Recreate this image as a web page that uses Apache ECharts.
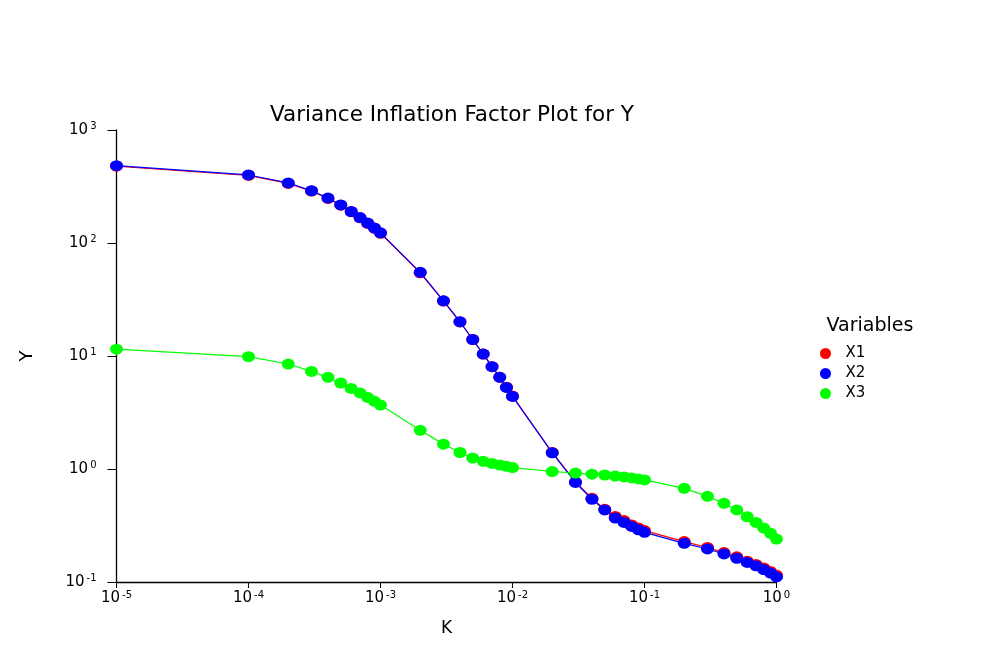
<!DOCTYPE html>
<html>
<head>
<meta charset="utf-8">
<script src="https://cdn.jsdelivr.net/npm/echarts@6/dist/echarts.min.js"></script>
<style>
  html, body { margin: 0; padding: 0; background: #fff; }
  #root { width: 983px; height: 653px; }
</style>
</head>
<body>
<div id="root"></div>
<script>
// ridge parameter K
const kValues = [
  0.00001,
  0.0001, 0.0002, 0.0003, 0.0004, 0.0005, 0.0006, 0.0007, 0.0008, 0.0009, 0.001,
  0.002, 0.003, 0.004, 0.005, 0.006, 0.007, 0.008, 0.009, 0.01,
  0.02, 0.03, 0.04, 0.05, 0.06, 0.07, 0.08, 0.09, 0.1,
  0.2, 0.3, 0.4, 0.5, 0.6, 0.7, 0.8, 0.9, 1.0
]
const x1Values = [
  478,
  396, 337, 288, 248, 216, 189, 167, 149, 135, 122,
  54.5, 30.6, 20.0, 14.0, 10.4, 8.05, 6.5, 5.3, 4.42,
  1.4, 0.77, 0.55, 0.44, 0.38, 0.35, 0.32, 0.30, 0.285,
  0.228, 0.202, 0.182, 0.167, 0.153, 0.143, 0.133, 0.124, 0.115
]
const x2Values = [
  483,
  400, 340, 290, 250, 217, 190, 168, 150, 136, 123,
  55, 30.8, 20.1, 14.0, 10.4, 8.04, 6.47, 5.27, 4.39,
  1.39, 0.76, 0.54, 0.434, 0.368, 0.337, 0.31, 0.29, 0.275,
  0.22, 0.196, 0.177, 0.162, 0.149, 0.139, 0.129, 0.12, 0.111
]
const x3Values = [
  11.5,
  9.86, 8.49, 7.31, 6.47, 5.77, 5.17, 4.71, 4.30, 3.97, 3.68,
  2.2, 1.66, 1.40, 1.25, 1.17, 1.12, 1.085, 1.055, 1.03,
  0.95, 0.92, 0.90, 0.885, 0.867, 0.85, 0.833, 0.816, 0.80,
  0.674, 0.573, 0.497, 0.434, 0.378, 0.337, 0.30, 0.27, 0.24
]
const seriesNames = ['X1', 'X2', 'X3']
const seriesColors = ['#ff0000', '#0000ff', '#00ff00']

const FONT = '"DejaVu Sans", "Liberation Sans", Arial, sans-serif'

// 10 with a superscript power
const pow10Label = v => {
  const e = Math.round(Math.log10(v))
  return '{b|10}{s|' + e + '}'
}
const powRich = {
  b: { fontSize: 15, color: '#000', fontFamily: FONT },
  s: { fontSize: 10, color: '#000', fontFamily: FONT, padding: [0, 0, 7, 2] }
}

const makeSeries = (i, values) => ({
  name: seriesNames[i],
  type: 'line',
  data: kValues.map((k, j) => [k, values[j]]),
  symbol: 'circle',
  symbolSize: [13, 11],
  itemStyle: { color: seriesColors[i] },
  lineStyle: { color: seriesColors[i], width: 1.2 },
  z: 2 + i,
  animation: false
})

const chart = echarts.init(document.getElementById('root'))
chart.setOption({
  backgroundColor: '#fff',
  textStyle: { fontFamily: FONT },
  title: [
    {
      text: 'Variance Inflation Factor Plot for Y',
      left: 447, top: 99, textAlign: 'center',
      textStyle: { fontSize: 21.5, fontWeight: 'normal', color: '#000', fontFamily: FONT }
    },
    {
      text: 'Variables',
      left: 865, top: 312, textAlign: 'center',
      textStyle: { fontSize: 19, fontWeight: 'normal', color: '#000', fontFamily: FONT }
    }
  ],
  legend: {
    data: seriesNames,
    orient: 'vertical',
    left: 815, top: 341,
    icon: 'circle',
    itemWidth: 14, itemHeight: 11,
    itemGap: 5,
    textStyle: { fontSize: 15, color: '#000', fontFamily: FONT, padding: [0, 0, 0, 8] }
  },
  grid: { left: 116.5, right: 206.5, top: 130, bottom: 71, containLabel: false },
  xAxis: {
    type: 'log', logBase: 10, min: 0.00001, max: 1,
    name: 'K', nameLocation: 'middle', nameGap: 38,
    nameTextStyle: { fontSize: 17, color: '#000', fontFamily: FONT },
    axisLine: { lineStyle: { color: '#000', width: 1.3 } },
    axisTick: { show: true, length: 6, lineStyle: { color: '#000' } },
    minorTick: { show: false },
    splitLine: { show: false },
    axisLabel: { formatter: pow10Label, rich: powRich, margin: 8 }
  },
  yAxis: {
    type: 'log', logBase: 10, min: 0.1, max: 1000,
    name: 'Y', nameLocation: 'middle', nameGap: 80, nameRotate: 90,
    nameTextStyle: { fontSize: 18, color: '#000', fontFamily: FONT },
    axisLine: { show: true, lineStyle: { color: '#000', width: 1.3 } },
    axisTick: { show: true, length: 9, lineStyle: { color: '#000' } },
    minorTick: { show: false },
    splitLine: { show: false },
    axisLabel: { formatter: pow10Label, rich: powRich, margin: 20 }
  },
  series: [
    makeSeries(0, x1Values),
    makeSeries(1, x2Values),
    makeSeries(2, x3Values)
  ]
})
</script>
</body>
</html>
